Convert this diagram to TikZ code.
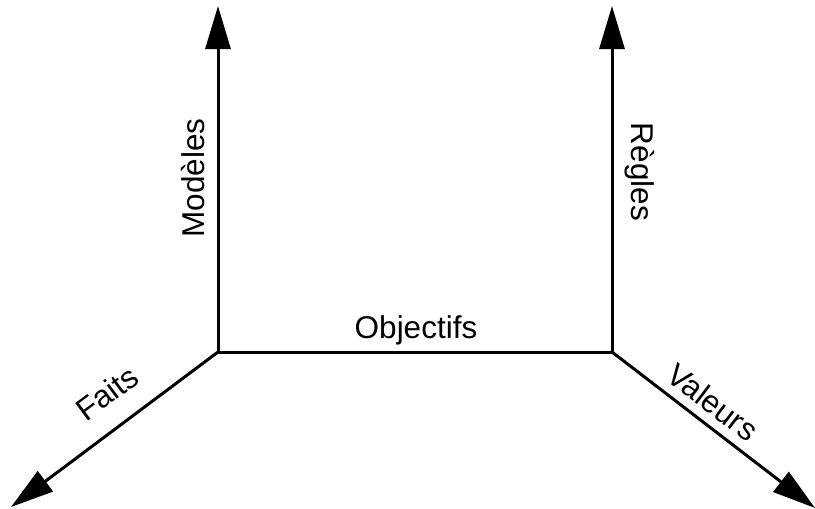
\documentclass[tikz,border=0pt]{standalone}
\usepackage{fontspec}
\setmainfont{Liberation Sans}
\usetikzlibrary{arrows.meta}
\begin{document}
\begin{tikzpicture}[x=1pt,y=-1pt,
  axis/.style={line width=3pt,-{Triangle[length=43pt,width=25pt]}},
  edge/.style={line width=3pt},
  lbl/.style={inner sep=0pt,font=\fontsize{31.5}{36}\selectfont}]
  \useasboundingbox (0,0) rectangle (815,509);
  % corners and arrow ends
  \coordinate (L) at (218,352);
  \coordinate (R) at (612,352);
  \coordinate (LT) at (218,6);
  \coordinate (RT) at (612,6);
  \coordinate (LB) at (11,507);
  \coordinate (RB) at (815,508);
  % axes
  \draw[edge] (L) -- (R);
  \draw[axis] (L) -- (LT);
  \draw[axis] (R) -- (RT);
  \draw[axis] (L) -- (LB);
  \draw[axis] (R) -- (RB);
  % labels
  \node[lbl] (objectifs) at (416,330) {Objectifs};
  \node[lbl,rotate=90] (modeles) at (193,178) {Modèles};
  \node[lbl,rotate=-90] (regles) at (640,172) {Règles};
  \node[lbl,rotate=36.6] (faits) at (107,393) {Faits};
  \node[lbl,rotate=-37.4] (valeurs) at (713,402) {Valeurs};
\end{tikzpicture}
\end{document}
